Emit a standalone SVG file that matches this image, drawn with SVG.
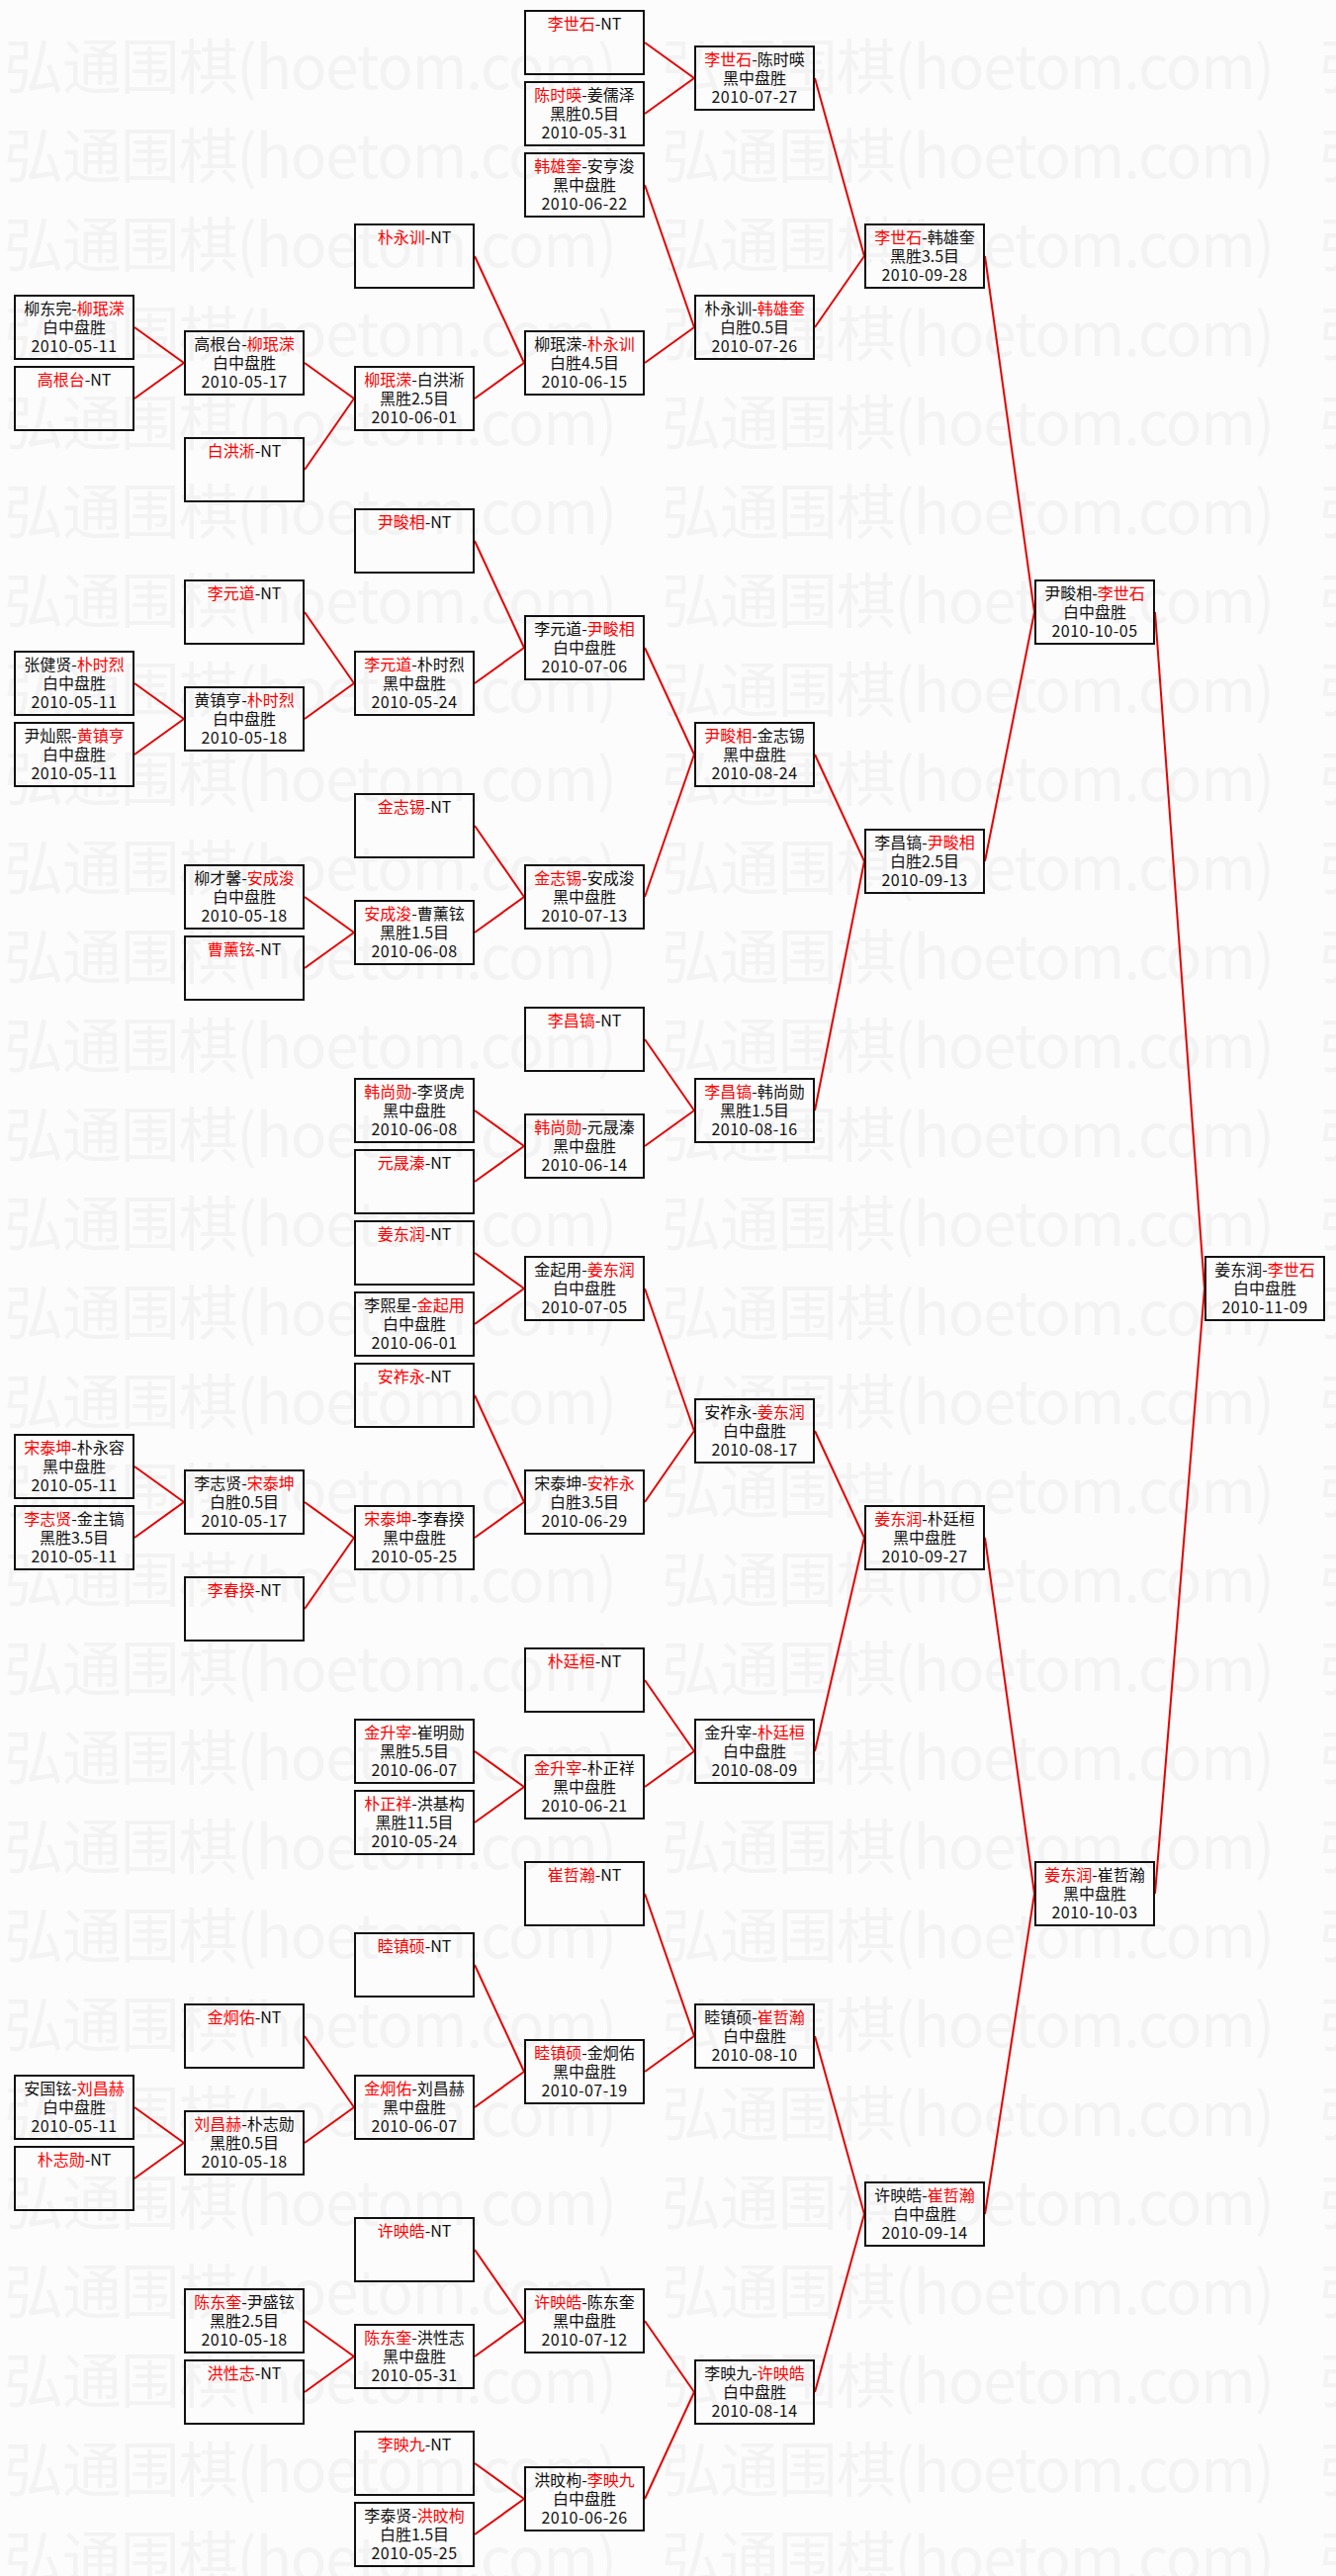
<svg xmlns="http://www.w3.org/2000/svg" width="1351" height="2605" viewBox="0 0 1351 2605">
<style>
.b{fill:none;stroke:#111;stroke-width:2}
.t{font-family:"Noto Sans CJK SC","Noto Sans",sans-serif;font-size:16px;fill:#111;text-anchor:middle}
.d{letter-spacing:0.5px}
.r{fill:#ff0000}
.c line{stroke:#e60000;stroke-width:2}
.wm{font-family:"Noto Sans CJK SC",sans-serif;font-size:60px;fill:#f3f3f3}
</style>
<defs>
<pattern id="wmp" patternUnits="userSpaceOnUse" x="0" y="30" width="665" height="90">
<text class="wm" x="4" y="60" textLength="620" lengthAdjust="spacing">弘通围棋(hoetom.com)</text>
</pattern>
</defs>
<rect width="1351" height="2605" fill="#fcfcfc"/>
<rect y="30" width="1351" height="2575" fill="url(#wmp)"/>
<g id="connectors" class="c">
<line x1="136" y1="331" x2="186" y2="367"/><line x1="136" y1="403" x2="186" y2="367"/>
<line x1="136" y1="691" x2="186" y2="727"/><line x1="136" y1="763" x2="186" y2="727"/>
<line x1="136" y1="1483" x2="186" y2="1519"/><line x1="136" y1="1555" x2="186" y2="1519"/>
<line x1="136" y1="2131" x2="186" y2="2167"/><line x1="136" y1="2203" x2="186" y2="2167"/>
<line x1="308" y1="367" x2="358" y2="403"/><line x1="308" y1="475" x2="358" y2="403"/>
<line x1="308" y1="619" x2="358" y2="691"/><line x1="308" y1="727" x2="358" y2="691"/>
<line x1="308" y1="907" x2="358" y2="943"/><line x1="308" y1="979" x2="358" y2="943"/>
<line x1="308" y1="1519" x2="358" y2="1555"/><line x1="308" y1="1627" x2="358" y2="1555"/>
<line x1="308" y1="2059" x2="358" y2="2131"/><line x1="308" y1="2167" x2="358" y2="2131"/>
<line x1="308" y1="2347" x2="358" y2="2383"/><line x1="308" y1="2419" x2="358" y2="2383"/>
<line x1="480" y1="259" x2="530" y2="367"/><line x1="480" y1="403" x2="530" y2="367"/>
<line x1="480" y1="547" x2="530" y2="655"/><line x1="480" y1="691" x2="530" y2="655"/>
<line x1="480" y1="835" x2="530" y2="907"/><line x1="480" y1="943" x2="530" y2="907"/>
<line x1="480" y1="1123" x2="530" y2="1159"/><line x1="480" y1="1195" x2="530" y2="1159"/>
<line x1="480" y1="1267" x2="530" y2="1303"/><line x1="480" y1="1339" x2="530" y2="1303"/>
<line x1="480" y1="1411" x2="530" y2="1519"/><line x1="480" y1="1555" x2="530" y2="1519"/>
<line x1="480" y1="1771" x2="530" y2="1807"/><line x1="480" y1="1843" x2="530" y2="1807"/>
<line x1="480" y1="1987" x2="530" y2="2095"/><line x1="480" y1="2131" x2="530" y2="2095"/>
<line x1="480" y1="2275" x2="530" y2="2347"/><line x1="480" y1="2383" x2="530" y2="2347"/>
<line x1="480" y1="2491" x2="530" y2="2527"/><line x1="480" y1="2563" x2="530" y2="2527"/>
<line x1="652" y1="43" x2="702" y2="79"/><line x1="652" y1="115" x2="702" y2="79"/>
<line x1="652" y1="187" x2="702" y2="331"/><line x1="652" y1="367" x2="702" y2="331"/>
<line x1="652" y1="655" x2="702" y2="763"/><line x1="652" y1="907" x2="702" y2="763"/>
<line x1="652" y1="1051" x2="702" y2="1123"/><line x1="652" y1="1159" x2="702" y2="1123"/>
<line x1="652" y1="1303" x2="702" y2="1447"/><line x1="652" y1="1519" x2="702" y2="1447"/>
<line x1="652" y1="1699" x2="702" y2="1771"/><line x1="652" y1="1807" x2="702" y2="1771"/>
<line x1="652" y1="1915" x2="702" y2="2059"/><line x1="652" y1="2095" x2="702" y2="2059"/>
<line x1="652" y1="2347" x2="702" y2="2419"/><line x1="652" y1="2527" x2="702" y2="2419"/>
<line x1="824" y1="79" x2="874" y2="259"/><line x1="824" y1="331" x2="874" y2="259"/>
<line x1="824" y1="763" x2="874" y2="871"/><line x1="824" y1="1123" x2="874" y2="871"/>
<line x1="824" y1="1447" x2="874" y2="1555"/><line x1="824" y1="1771" x2="874" y2="1555"/>
<line x1="824" y1="2059" x2="874" y2="2239"/><line x1="824" y1="2419" x2="874" y2="2239"/>
<line x1="996" y1="259" x2="1046" y2="619"/><line x1="996" y1="871" x2="1046" y2="619"/>
<line x1="996" y1="1555" x2="1046" y2="1915"/><line x1="996" y1="2239" x2="1046" y2="1915"/>
<line x1="1168" y1="619" x2="1218" y2="1303"/><line x1="1168" y1="1915" x2="1218" y2="1303"/>
</g>
<!-- column 0 -->
<g id="n0-8" transform="translate(14,298)"><rect class="b" x="1" y="1" width="120" height="64"/><text class="t" x="61" y="20">柳东完-<tspan class="r">柳珉溁</tspan></text><text class="t" x="61" y="39">白中盘胜</text><text class="t d" x="61" y="58">2010-05-11</text></g>
<g id="n0-10" transform="translate(14,370)"><rect class="b" x="1" y="1" width="120" height="64"/><text class="t" x="61" y="20"><tspan class="r">高根台</tspan>-NT</text></g>
<g id="n0-18" transform="translate(14,658)"><rect class="b" x="1" y="1" width="120" height="64"/><text class="t" x="61" y="20">张健贤-<tspan class="r">朴时烈</tspan></text><text class="t" x="61" y="39">白中盘胜</text><text class="t d" x="61" y="58">2010-05-11</text></g>
<g id="n0-20" transform="translate(14,730)"><rect class="b" x="1" y="1" width="120" height="64"/><text class="t" x="61" y="20">尹灿熙-<tspan class="r">黄镇亨</tspan></text><text class="t" x="61" y="39">白中盘胜</text><text class="t d" x="61" y="58">2010-05-11</text></g>
<g id="n0-40" transform="translate(14,1450)"><rect class="b" x="1" y="1" width="120" height="64"/><text class="t" x="61" y="20"><tspan class="r">宋泰坤</tspan>-朴永容</text><text class="t" x="61" y="39">黑中盘胜</text><text class="t d" x="61" y="58">2010-05-11</text></g>
<g id="n0-42" transform="translate(14,1522)"><rect class="b" x="1" y="1" width="120" height="64"/><text class="t" x="61" y="20"><tspan class="r">李志贤</tspan>-金主镐</text><text class="t" x="61" y="39">黑胜3.5目</text><text class="t d" x="61" y="58">2010-05-11</text></g>
<g id="n0-58" transform="translate(14,2098)"><rect class="b" x="1" y="1" width="120" height="64"/><text class="t" x="61" y="20">安国铉-<tspan class="r">刘昌赫</tspan></text><text class="t" x="61" y="39">白中盘胜</text><text class="t d" x="61" y="58">2010-05-11</text></g>
<g id="n0-60" transform="translate(14,2170)"><rect class="b" x="1" y="1" width="120" height="64"/><text class="t" x="61" y="20"><tspan class="r">朴志勋</tspan>-NT</text></g>
<!-- column 1 -->
<g id="n1-9" transform="translate(186,334)"><rect class="b" x="1" y="1" width="120" height="64"/><text class="t" x="61" y="20">高根台-<tspan class="r">柳珉溁</tspan></text><text class="t" x="61" y="39">白中盘胜</text><text class="t d" x="61" y="58">2010-05-17</text></g>
<g id="n1-12" transform="translate(186,442)"><rect class="b" x="1" y="1" width="120" height="64"/><text class="t" x="61" y="20"><tspan class="r">白洪淅</tspan>-NT</text></g>
<g id="n1-16" transform="translate(186,586)"><rect class="b" x="1" y="1" width="120" height="64"/><text class="t" x="61" y="20"><tspan class="r">李元道</tspan>-NT</text></g>
<g id="n1-19" transform="translate(186,694)"><rect class="b" x="1" y="1" width="120" height="64"/><text class="t" x="61" y="20">黄镇亨-<tspan class="r">朴时烈</tspan></text><text class="t" x="61" y="39">白中盘胜</text><text class="t d" x="61" y="58">2010-05-18</text></g>
<g id="n1-24" transform="translate(186,874)"><rect class="b" x="1" y="1" width="120" height="64"/><text class="t" x="61" y="20">柳才馨-<tspan class="r">安成浚</tspan></text><text class="t" x="61" y="39">白中盘胜</text><text class="t d" x="61" y="58">2010-05-18</text></g>
<g id="n1-26" transform="translate(186,946)"><rect class="b" x="1" y="1" width="120" height="64"/><text class="t" x="61" y="20"><tspan class="r">曹薰铉</tspan>-NT</text></g>
<g id="n1-41" transform="translate(186,1486)"><rect class="b" x="1" y="1" width="120" height="64"/><text class="t" x="61" y="20">李志贤-<tspan class="r">宋泰坤</tspan></text><text class="t" x="61" y="39">白胜0.5目</text><text class="t d" x="61" y="58">2010-05-17</text></g>
<g id="n1-44" transform="translate(186,1594)"><rect class="b" x="1" y="1" width="120" height="64"/><text class="t" x="61" y="20"><tspan class="r">李春揆</tspan>-NT</text></g>
<g id="n1-56" transform="translate(186,2026)"><rect class="b" x="1" y="1" width="120" height="64"/><text class="t" x="61" y="20"><tspan class="r">金炯佑</tspan>-NT</text></g>
<g id="n1-59" transform="translate(186,2134)"><rect class="b" x="1" y="1" width="120" height="64"/><text class="t" x="61" y="20"><tspan class="r">刘昌赫</tspan>-朴志勋</text><text class="t" x="61" y="39">黑胜0.5目</text><text class="t d" x="61" y="58">2010-05-18</text></g>
<g id="n1-64" transform="translate(186,2314)"><rect class="b" x="1" y="1" width="120" height="64"/><text class="t" x="61" y="20"><tspan class="r">陈东奎</tspan>-尹盛铉</text><text class="t" x="61" y="39">黑胜2.5目</text><text class="t d" x="61" y="58">2010-05-18</text></g>
<g id="n1-66" transform="translate(186,2386)"><rect class="b" x="1" y="1" width="120" height="64"/><text class="t" x="61" y="20"><tspan class="r">洪性志</tspan>-NT</text></g>
<!-- column 2 -->
<g id="n2-6" transform="translate(358,226)"><rect class="b" x="1" y="1" width="120" height="64"/><text class="t" x="61" y="20"><tspan class="r">朴永训</tspan>-NT</text></g>
<g id="n2-10" transform="translate(358,370)"><rect class="b" x="1" y="1" width="120" height="64"/><text class="t" x="61" y="20"><tspan class="r">柳珉溁</tspan>-白洪淅</text><text class="t" x="61" y="39">黑胜2.5目</text><text class="t d" x="61" y="58">2010-06-01</text></g>
<g id="n2-14" transform="translate(358,514)"><rect class="b" x="1" y="1" width="120" height="64"/><text class="t" x="61" y="20"><tspan class="r">尹畯相</tspan>-NT</text></g>
<g id="n2-18" transform="translate(358,658)"><rect class="b" x="1" y="1" width="120" height="64"/><text class="t" x="61" y="20"><tspan class="r">李元道</tspan>-朴时烈</text><text class="t" x="61" y="39">黑中盘胜</text><text class="t d" x="61" y="58">2010-05-24</text></g>
<g id="n2-22" transform="translate(358,802)"><rect class="b" x="1" y="1" width="120" height="64"/><text class="t" x="61" y="20"><tspan class="r">金志锡</tspan>-NT</text></g>
<g id="n2-25" transform="translate(358,910)"><rect class="b" x="1" y="1" width="120" height="64"/><text class="t" x="61" y="20"><tspan class="r">安成浚</tspan>-曹薰铉</text><text class="t" x="61" y="39">黑胜1.5目</text><text class="t d" x="61" y="58">2010-06-08</text></g>
<g id="n2-30" transform="translate(358,1090)"><rect class="b" x="1" y="1" width="120" height="64"/><text class="t" x="61" y="20"><tspan class="r">韩尚勋</tspan>-李贤虎</text><text class="t" x="61" y="39">黑中盘胜</text><text class="t d" x="61" y="58">2010-06-08</text></g>
<g id="n2-32" transform="translate(358,1162)"><rect class="b" x="1" y="1" width="120" height="64"/><text class="t" x="61" y="20"><tspan class="r">元晟溱</tspan>-NT</text></g>
<g id="n2-34" transform="translate(358,1234)"><rect class="b" x="1" y="1" width="120" height="64"/><text class="t" x="61" y="20"><tspan class="r">姜东润</tspan>-NT</text></g>
<g id="n2-36" transform="translate(358,1306)"><rect class="b" x="1" y="1" width="120" height="64"/><text class="t" x="61" y="20">李熙星-<tspan class="r">金起用</tspan></text><text class="t" x="61" y="39">白中盘胜</text><text class="t d" x="61" y="58">2010-06-01</text></g>
<g id="n2-38" transform="translate(358,1378)"><rect class="b" x="1" y="1" width="120" height="64"/><text class="t" x="61" y="20"><tspan class="r">安祚永</tspan>-NT</text></g>
<g id="n2-42" transform="translate(358,1522)"><rect class="b" x="1" y="1" width="120" height="64"/><text class="t" x="61" y="20"><tspan class="r">宋泰坤</tspan>-李春揆</text><text class="t" x="61" y="39">黑中盘胜</text><text class="t d" x="61" y="58">2010-05-25</text></g>
<g id="n2-48" transform="translate(358,1738)"><rect class="b" x="1" y="1" width="120" height="64"/><text class="t" x="61" y="20"><tspan class="r">金升宰</tspan>-崔明勋</text><text class="t" x="61" y="39">黑胜5.5目</text><text class="t d" x="61" y="58">2010-06-07</text></g>
<g id="n2-50" transform="translate(358,1810)"><rect class="b" x="1" y="1" width="120" height="64"/><text class="t" x="61" y="20"><tspan class="r">朴正祥</tspan>-洪基构</text><text class="t" x="61" y="39">黑胜11.5目</text><text class="t d" x="61" y="58">2010-05-24</text></g>
<g id="n2-54" transform="translate(358,1954)"><rect class="b" x="1" y="1" width="120" height="64"/><text class="t" x="61" y="20"><tspan class="r">睦镇硕</tspan>-NT</text></g>
<g id="n2-58" transform="translate(358,2098)"><rect class="b" x="1" y="1" width="120" height="64"/><text class="t" x="61" y="20"><tspan class="r">金炯佑</tspan>-刘昌赫</text><text class="t" x="61" y="39">黑中盘胜</text><text class="t d" x="61" y="58">2010-06-07</text></g>
<g id="n2-62" transform="translate(358,2242)"><rect class="b" x="1" y="1" width="120" height="64"/><text class="t" x="61" y="20"><tspan class="r">许映皓</tspan>-NT</text></g>
<g id="n2-65" transform="translate(358,2350)"><rect class="b" x="1" y="1" width="120" height="64"/><text class="t" x="61" y="20"><tspan class="r">陈东奎</tspan>-洪性志</text><text class="t" x="61" y="39">黑中盘胜</text><text class="t d" x="61" y="58">2010-05-31</text></g>
<g id="n2-68" transform="translate(358,2458)"><rect class="b" x="1" y="1" width="120" height="64"/><text class="t" x="61" y="20"><tspan class="r">李映九</tspan>-NT</text></g>
<g id="n2-70" transform="translate(358,2530)"><rect class="b" x="1" y="1" width="120" height="64"/><text class="t" x="61" y="20">李泰贤-<tspan class="r">洪旼枸</tspan></text><text class="t" x="61" y="39">白胜1.5目</text><text class="t d" x="61" y="58">2010-05-25</text></g>
<!-- column 3 -->
<g id="n3-0" transform="translate(530,10)"><rect class="b" x="1" y="1" width="120" height="64"/><text class="t" x="61" y="20"><tspan class="r">李世石</tspan>-NT</text></g>
<g id="n3-2" transform="translate(530,82)"><rect class="b" x="1" y="1" width="120" height="64"/><text class="t" x="61" y="20"><tspan class="r">陈时暎</tspan>-姜儒泽</text><text class="t" x="61" y="39">黑胜0.5目</text><text class="t d" x="61" y="58">2010-05-31</text></g>
<g id="n3-4" transform="translate(530,154)"><rect class="b" x="1" y="1" width="120" height="64"/><text class="t" x="61" y="20"><tspan class="r">韩雄奎</tspan>-安亨浚</text><text class="t" x="61" y="39">黑中盘胜</text><text class="t d" x="61" y="58">2010-06-22</text></g>
<g id="n3-9" transform="translate(530,334)"><rect class="b" x="1" y="1" width="120" height="64"/><text class="t" x="61" y="20">柳珉溁-<tspan class="r">朴永训</tspan></text><text class="t" x="61" y="39">白胜4.5目</text><text class="t d" x="61" y="58">2010-06-15</text></g>
<g id="n3-17" transform="translate(530,622)"><rect class="b" x="1" y="1" width="120" height="64"/><text class="t" x="61" y="20">李元道-<tspan class="r">尹畯相</tspan></text><text class="t" x="61" y="39">白中盘胜</text><text class="t d" x="61" y="58">2010-07-06</text></g>
<g id="n3-24" transform="translate(530,874)"><rect class="b" x="1" y="1" width="120" height="64"/><text class="t" x="61" y="20"><tspan class="r">金志锡</tspan>-安成浚</text><text class="t" x="61" y="39">黑中盘胜</text><text class="t d" x="61" y="58">2010-07-13</text></g>
<g id="n3-28" transform="translate(530,1018)"><rect class="b" x="1" y="1" width="120" height="64"/><text class="t" x="61" y="20"><tspan class="r">李昌镐</tspan>-NT</text></g>
<g id="n3-31" transform="translate(530,1126)"><rect class="b" x="1" y="1" width="120" height="64"/><text class="t" x="61" y="20"><tspan class="r">韩尚勋</tspan>-元晟溱</text><text class="t" x="61" y="39">黑中盘胜</text><text class="t d" x="61" y="58">2010-06-14</text></g>
<g id="n3-35" transform="translate(530,1270)"><rect class="b" x="1" y="1" width="120" height="64"/><text class="t" x="61" y="20">金起用-<tspan class="r">姜东润</tspan></text><text class="t" x="61" y="39">白中盘胜</text><text class="t d" x="61" y="58">2010-07-05</text></g>
<g id="n3-41" transform="translate(530,1486)"><rect class="b" x="1" y="1" width="120" height="64"/><text class="t" x="61" y="20">宋泰坤-<tspan class="r">安祚永</tspan></text><text class="t" x="61" y="39">白胜3.5目</text><text class="t d" x="61" y="58">2010-06-29</text></g>
<g id="n3-46" transform="translate(530,1666)"><rect class="b" x="1" y="1" width="120" height="64"/><text class="t" x="61" y="20"><tspan class="r">朴廷桓</tspan>-NT</text></g>
<g id="n3-49" transform="translate(530,1774)"><rect class="b" x="1" y="1" width="120" height="64"/><text class="t" x="61" y="20"><tspan class="r">金升宰</tspan>-朴正祥</text><text class="t" x="61" y="39">黑中盘胜</text><text class="t d" x="61" y="58">2010-06-21</text></g>
<g id="n3-52" transform="translate(530,1882)"><rect class="b" x="1" y="1" width="120" height="64"/><text class="t" x="61" y="20"><tspan class="r">崔哲瀚</tspan>-NT</text></g>
<g id="n3-57" transform="translate(530,2062)"><rect class="b" x="1" y="1" width="120" height="64"/><text class="t" x="61" y="20"><tspan class="r">睦镇硕</tspan>-金炯佑</text><text class="t" x="61" y="39">黑中盘胜</text><text class="t d" x="61" y="58">2010-07-19</text></g>
<g id="n3-64" transform="translate(530,2314)"><rect class="b" x="1" y="1" width="120" height="64"/><text class="t" x="61" y="20"><tspan class="r">许映皓</tspan>-陈东奎</text><text class="t" x="61" y="39">黑中盘胜</text><text class="t d" x="61" y="58">2010-07-12</text></g>
<g id="n3-69" transform="translate(530,2494)"><rect class="b" x="1" y="1" width="120" height="64"/><text class="t" x="61" y="20">洪旼枸-<tspan class="r">李映九</tspan></text><text class="t" x="61" y="39">白中盘胜</text><text class="t d" x="61" y="58">2010-06-26</text></g>
<!-- column 4 -->
<g id="n4-1" transform="translate(702,46)"><rect class="b" x="1" y="1" width="120" height="64"/><text class="t" x="61" y="20"><tspan class="r">李世石</tspan>-陈时暎</text><text class="t" x="61" y="39">黑中盘胜</text><text class="t d" x="61" y="58">2010-07-27</text></g>
<g id="n4-8" transform="translate(702,298)"><rect class="b" x="1" y="1" width="120" height="64"/><text class="t" x="61" y="20">朴永训-<tspan class="r">韩雄奎</tspan></text><text class="t" x="61" y="39">白胜0.5目</text><text class="t d" x="61" y="58">2010-07-26</text></g>
<g id="n4-20" transform="translate(702,730)"><rect class="b" x="1" y="1" width="120" height="64"/><text class="t" x="61" y="20"><tspan class="r">尹畯相</tspan>-金志锡</text><text class="t" x="61" y="39">黑中盘胜</text><text class="t d" x="61" y="58">2010-08-24</text></g>
<g id="n4-30" transform="translate(702,1090)"><rect class="b" x="1" y="1" width="120" height="64"/><text class="t" x="61" y="20"><tspan class="r">李昌镐</tspan>-韩尚勋</text><text class="t" x="61" y="39">黑胜1.5目</text><text class="t d" x="61" y="58">2010-08-16</text></g>
<g id="n4-39" transform="translate(702,1414)"><rect class="b" x="1" y="1" width="120" height="64"/><text class="t" x="61" y="20">安祚永-<tspan class="r">姜东润</tspan></text><text class="t" x="61" y="39">白中盘胜</text><text class="t d" x="61" y="58">2010-08-17</text></g>
<g id="n4-48" transform="translate(702,1738)"><rect class="b" x="1" y="1" width="120" height="64"/><text class="t" x="61" y="20">金升宰-<tspan class="r">朴廷桓</tspan></text><text class="t" x="61" y="39">白中盘胜</text><text class="t d" x="61" y="58">2010-08-09</text></g>
<g id="n4-56" transform="translate(702,2026)"><rect class="b" x="1" y="1" width="120" height="64"/><text class="t" x="61" y="20">睦镇硕-<tspan class="r">崔哲瀚</tspan></text><text class="t" x="61" y="39">白中盘胜</text><text class="t d" x="61" y="58">2010-08-10</text></g>
<g id="n4-66" transform="translate(702,2386)"><rect class="b" x="1" y="1" width="120" height="64"/><text class="t" x="61" y="20">李映九-<tspan class="r">许映皓</tspan></text><text class="t" x="61" y="39">白中盘胜</text><text class="t d" x="61" y="58">2010-08-14</text></g>
<!-- column 5 -->
<g id="n5-6" transform="translate(874,226)"><rect class="b" x="1" y="1" width="120" height="64"/><text class="t" x="61" y="20"><tspan class="r">李世石</tspan>-韩雄奎</text><text class="t" x="61" y="39">黑胜3.5目</text><text class="t d" x="61" y="58">2010-09-28</text></g>
<g id="n5-23" transform="translate(874,838)"><rect class="b" x="1" y="1" width="120" height="64"/><text class="t" x="61" y="20">李昌镐-<tspan class="r">尹畯相</tspan></text><text class="t" x="61" y="39">白胜2.5目</text><text class="t d" x="61" y="58">2010-09-13</text></g>
<g id="n5-42" transform="translate(874,1522)"><rect class="b" x="1" y="1" width="120" height="64"/><text class="t" x="61" y="20"><tspan class="r">姜东润</tspan>-朴廷桓</text><text class="t" x="61" y="39">黑中盘胜</text><text class="t d" x="61" y="58">2010-09-27</text></g>
<g id="n5-61" transform="translate(874,2206)"><rect class="b" x="1" y="1" width="120" height="64"/><text class="t" x="61" y="20">许映皓-<tspan class="r">崔哲瀚</tspan></text><text class="t" x="61" y="39">白中盘胜</text><text class="t d" x="61" y="58">2010-09-14</text></g>
<!-- column 6 -->
<g id="n6-16" transform="translate(1046,586)"><rect class="b" x="1" y="1" width="120" height="64"/><text class="t" x="61" y="20">尹畯相-<tspan class="r">李世石</tspan></text><text class="t" x="61" y="39">白中盘胜</text><text class="t d" x="61" y="58">2010-10-05</text></g>
<g id="n6-52" transform="translate(1046,1882)"><rect class="b" x="1" y="1" width="120" height="64"/><text class="t" x="61" y="20"><tspan class="r">姜东润</tspan>-崔哲瀚</text><text class="t" x="61" y="39">黑中盘胜</text><text class="t d" x="61" y="58">2010-10-03</text></g>
<!-- column 7 -->
<g id="n7-35" transform="translate(1218,1270)"><rect class="b" x="1" y="1" width="120" height="64"/><text class="t" x="61" y="20">姜东润-<tspan class="r">李世石</tspan></text><text class="t" x="61" y="39">白中盘胜</text><text class="t d" x="61" y="58">2010-11-09</text></g>
</svg>
